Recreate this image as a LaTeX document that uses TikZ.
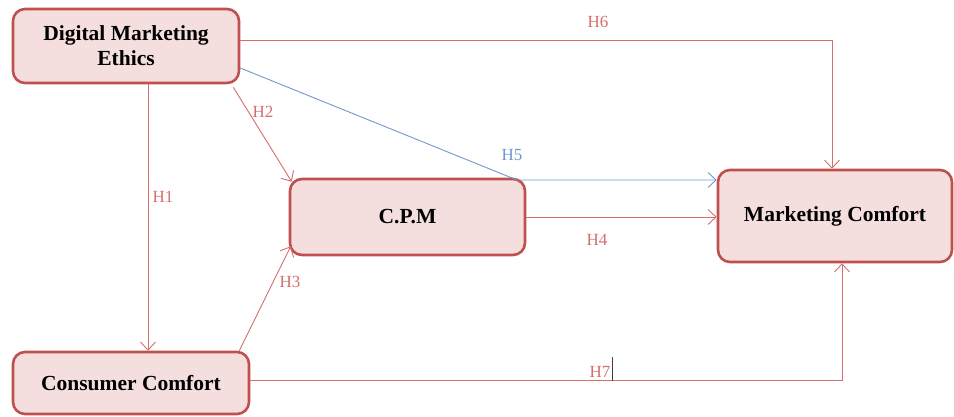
\documentclass[tikz,border=0pt]{standalone}
\usepackage{fontspec}
\setmainfont{Liberation Serif}
\usetikzlibrary{arrows.meta,calc}

\definecolor{boxred}{HTML}{C0504D}
\definecolor{boxfill}{HTML}{F4DEDE}
\definecolor{linkred}{HTML}{D46F6C}
\definecolor{linkblue}{HTML}{6F98CC}
\definecolor{cursorgray}{HTML}{404040}

\tikzset{
  concept/.style={draw=boxred, line width=2.6pt, fill=boxfill, rounded corners=12pt,
    inner sep=0pt, align=center, font=\fontsize{21.5}{25}\selectfont\bfseries},
  link/.style={draw=linkred, line width=0.9pt, -{Straight Barb[length=8pt,width=15pt]}},
  bluelink/.style={link, draw=linkblue},
  hyp/.style={text=linkred, font=\fontsize{17}{19}\selectfont, inner sep=0pt},
  bluehyp/.style={hyp, text=linkblue}
}

\begin{document}
\begin{tikzpicture}[x=1pt,y=-1pt]
  \useasboundingbox (0,0) rectangle (954,416);

  % constructs
  \node[concept, minimum width=226pt, minimum height=74pt] (dme) at (126,46) {Digital Marketing\\Ethics};
  \node[concept, minimum width=235pt, minimum height=76pt] (cpm) at (407.5,217) {C.P.M};
  \node[concept, minimum width=234pt, minimum height=92pt] (mc)  at (835,216) {Marketing Comfort};
  \node[concept, minimum width=236pt, minimum height=62pt] (cc)  at (131,383) {Consumer Comfort};

  \coordinate (h1x)  at (148,0);
  \coordinate (bend) at (517,180);

  % hypothesised paths
  \draw[link] ([yshift=6pt]dme.east) -| ([xshift=-3pt]mc.north);
  \draw[bluelink] ([yshift=-22pt]dme.east) -- (bend) -- (bend -| mc.west);
  \draw[link] ([xshift=-7pt,yshift=-3pt]dme.south east) -- ([xshift=3pt,yshift=-4pt]cpm.north west);
  \draw[link] (dme.south -| h1x) -- (cc.north -| h1x);
  \draw[link] ([xshift=-11pt]cc.north east) -- ([xshift=2pt,yshift=10pt]cpm.south west);
  \draw[link] (cpm.east) -- (cpm.east -| mc.west);
  \draw[link] ([yshift=3pt]cc.east) -| ([xshift=7pt]mc.south);

  % labels
  \node[hyp] (l6) at (598,22) {H6};
  \node[bluehyp] (l5) at (512,155) {H5};
  \node[hyp] (l2) at (263,112) {H2};
  \node[hyp] (l1) at (163,197) {H1};
  \node[hyp] (l4) at (597,240) {H4};
  \node[hyp] (l3) at (290,282) {H3};
  \node[hyp] (l7) at (600,372) {H7};
  \draw[cursorgray, line width=1pt] ([xshift=2pt,yshift=15pt]l7.east) -- ([xshift=2pt,yshift=-9pt]l7.east);
\end{tikzpicture}
\end{document}
